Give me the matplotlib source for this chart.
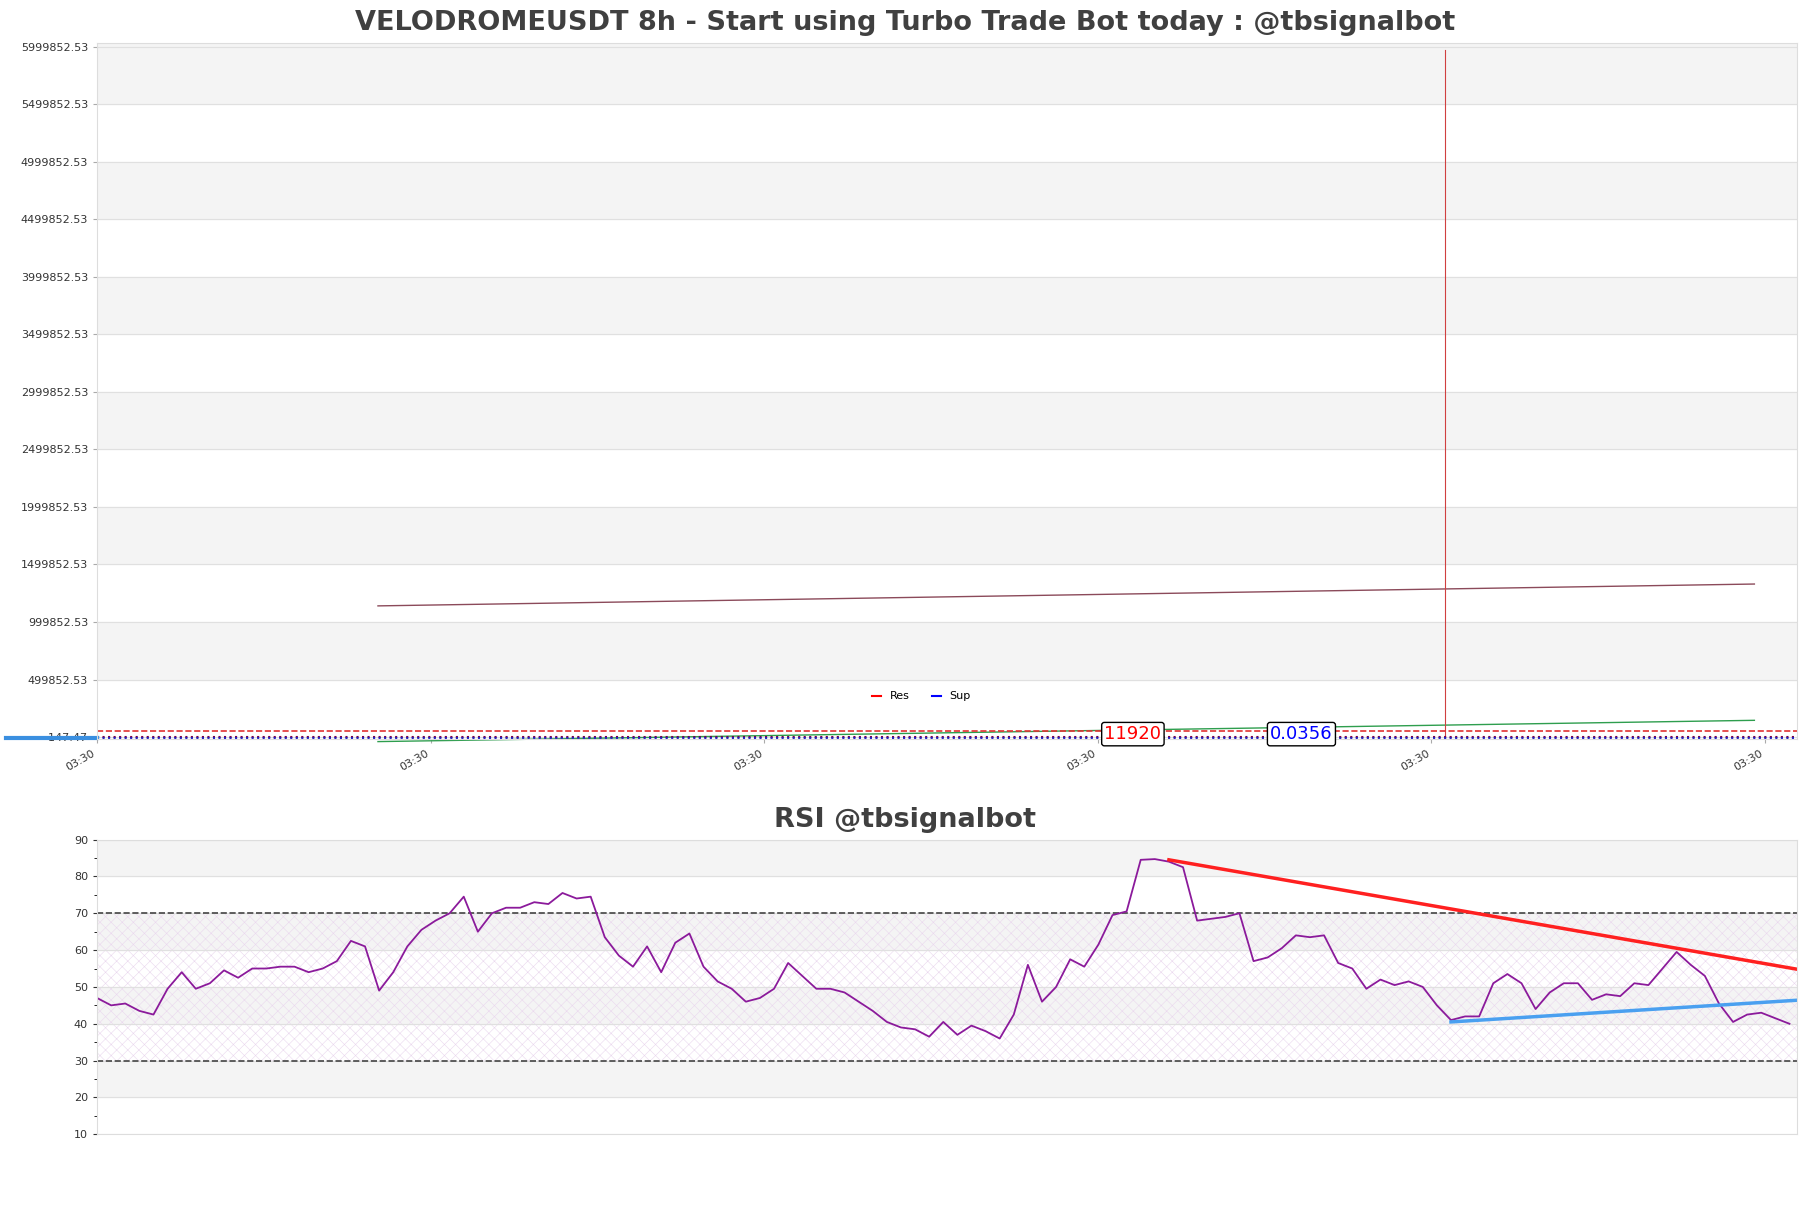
import matplotlib
matplotlib.use("Agg")
import matplotlib.pyplot as plt
import numpy as np

rsi = [47,45,45.5,43.5,42.5,49.5,54,49.5,51,54.5,52.5,55,55,55.5,55.5,54,55,57,62.5,61,49,54,61,65.5,68,70,74.5,65,70,71.5,71.5,73,72.5,75.5,74,74.5,63.5,58.5,55.5,61,54,62,64.5,55.5,51.5,49.5,46,47,49.5,56.5,53,49.5,49.5,48.5,46,43.5,40.5,39,38.5,36.5,40.5,37,39.5,38,36,42.5,56,46,50,57.5,55.5,61.5,69.5,70.5,84.5,84.7,84,82.5,68,68.5,69,70,57,58,60.5,64,63.5,64,56.5,55,49.5,52,50.5,51.5,50,45,41,42,42,51,53.5,51,44,48.5,51,51,46.5,48,47.5,51,50.5,55,59.5,56,53,45.5,40.5,42.5,43,41.5,40]
res_trend_idx = [76, 121]
res_trend_val = [84.5, 54.5]
sup_trend_idx = [96, 121]
sup_trend_val = [40.5, 46.5]

price_x = [40, 236]
upper_line = [1140000, 1330000]
lower_line = [-40000, 145000]
res_level = 50000
sup_level = -3000
vline_x = 192
xtick_pos = [0, 47.5, 95, 142.5, 190, 237.5]
xtick_labels = ["03:30"] * 6
yticks_top = [-147.47 + 500000 * i for i in range(13)]

fig = plt.figure(figsize=(18.11, 12.08), dpi=100)
ax = fig.add_axes([0.0536, 0.388, 0.9384, 0.576])
ax.set_xlim(0, 242)
ax.set_ylim(-20000, 6030000)
for i in range(12):
    if i % 2 == 1:
        ax.axhspan(yticks_top[i], yticks_top[i + 1], color="#f4f4f4", zorder=0)
ax.axhspan(yticks_top[12], 6050000, color="#f4f4f4", zorder=0)
for y in yticks_top:
    ax.axhline(y, color="#e0e0e0", lw=0.8, zorder=0.5)
ax.set_yticks(yticks_top)
ax.set_yticklabels([f"{v:.2f}" for v in yticks_top], fontsize=8, color="#333")
ax.set_xticks(xtick_pos)
ax.set_xticklabels(xtick_labels, rotation=30, ha="right", fontsize=8, color="#333")
ax.plot(price_x, upper_line, color="#8b4a5a", lw=1)
ax.plot(price_x, lower_line, color="#2e9e4e", lw=1, clip_on=False)
ax.axvline(vline_x, ymin=0, ymax=0.99, color="#d04040", lw=0.8)
ax.axhline(res_level, color="#e03030", ls="--", lw=1.2)
ax.axhline(sup_level, color="#800040", ls=":", lw=1.5)
ax.axhline(-12000, color="#2020c0", ls=":", lw=1.5)
ax.plot([-13, 0], [-5000, -5000], color="#3a8fe0", lw=3, clip_on=False)
ax.plot([], [], color="red", label="Res")
ax.plot([], [], color="blue", label="Sup")
ax.legend(loc="lower center", bbox_to_anchor=(0.485, 0.04), ncol=2, fontsize=8, frameon=False, handlelength=0.8)
ax.text(147.5, 25000, "11920", color="red", fontsize=13, ha="center", va="center",
        bbox=dict(boxstyle="round,pad=0.15", fc="white", ec="black"))
ax.text(171.5, 25000, "0.0356", color="blue", fontsize=13, ha="center", va="center",
        bbox=dict(boxstyle="round,pad=0.15", fc="white", ec="black"))
for s in ax.spines.values():
    s.set_color("#dddddd")
ax.tick_params(length=3, color="#aaa")
fig.text(0.5, 0.981, "VELODROMEUSDT 8h - Start using Turbo Trade Bot today : @tbsignalbot",
         fontsize=19.5, fontweight="bold", color="#404040", ha="center", va="center")

ax2 = fig.add_axes([0.0536, 0.061, 0.9384, 0.244])
x = np.arange(len(rsi))
ax2.set_xlim(0, len(rsi) - 0.5)
ax2.set_ylim(10, 90)
for lo in (20, 40, 60, 80):
    ax2.axhspan(lo, lo + 10, color="#f4f4f4", zorder=0)
plt.rcParams["hatch.linewidth"] = 0.4
ax2.axhspan(30, 70, facecolor="none", edgecolor="#ead8ee", hatch="xxx", lw=0, zorder=0.2)
for y in range(10, 91, 10):
    ax2.axhline(y, color="#e0e0e0", lw=0.8, zorder=0.5)
ax2.axhline(70, color="#444", ls="--", lw=1.2)
ax2.axhline(30, color="#444", ls="--", lw=1.2)
ax2.plot(x, rsi, color="#8b1a9b", lw=1.3)
ax2.plot(res_trend_idx, res_trend_val, color="#ff2020", lw=2.5)
ax2.plot(sup_trend_idx, sup_trend_val, color="#4aa0f0", lw=2.5)
ax2.set_yticks(range(10, 91, 10))
ax2.set_yticks(range(15, 90, 10), minor=True)
ax2.tick_params(labelsize=8, colors="#333", length=3)
ax2.set_xticks([])
for s in ax2.spines.values():
    s.set_color("#dddddd")
fig.text(0.5, 0.321, "RSI @tbsignalbot", fontsize=19.5, fontweight="bold", color="#404040",
         ha="center", va="center")
fig.savefig("out.png", dpi=100)
